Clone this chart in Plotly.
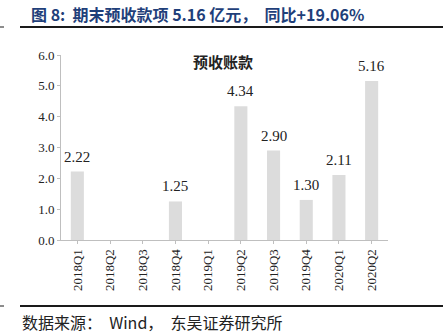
import plotly.graph_objects as go

# Quarterly advance receipts (亿元)
quarters = ["2018Q1", "2018Q2", "2018Q3", "2018Q4", "2019Q1",
            "2019Q2", "2019Q3", "2019Q4", "2020Q1", "2020Q2"]
advance_receipts = [2.22, None, None, 1.25, None, 4.34, 2.90, 1.30, 2.11, 5.16]
y_ticks = [0, 1, 2, 3, 4, 5, 6]

W, H = 443, 335
L, R, T, B = 61, 388, 55, 240  # plot area in pixels


def px(x):
    return (x - L) / (R - L)


def py(y):
    return (B - y) / (B - T)


serif = "Liberation Serif, Times New Roman, serif"
cjk = "Noto Sans CJK SC, sans-serif"

fig = go.Figure(
    go.Bar(
        x=quarters,
        y=advance_receipts,
        marker=dict(color="#dcdcdc", line=dict(width=0)),
        width=0.4,
        hoverinfo="x+y",
    )
)

# value labels above each bar
value_labels = [
    dict(x=q, y=v, text=f"{v:.2f}", xref="x", yref="y",
         xanchor="center", yanchor="bottom", yshift=5, showarrow=False,
         font=dict(family=serif, size=15, color="#222222"))
    for q, v in zip(quarters, advance_receipts) if v is not None
]

line_col = "#1a1a1a"
fig.update_layout(
    width=W,
    height=H,
    margin=dict(l=L, r=W - R, t=T, b=H - B),
    paper_bgcolor="white",
    plot_bgcolor="white",
    showlegend=False,
    xaxis=dict(
        type="category",
        tickangle=-90,
        tickfont=dict(family=serif, size=13, color="#222222"),
        showline=True,
        linecolor="#bfbfbf",
        linewidth=1,
        ticks="outside",
        ticklen=3,
        tickcolor="#bfbfbf",
        showgrid=False,
        zeroline=False,
    ),
    yaxis=dict(
        range=[0, 6],
        tickvals=y_ticks,
        ticktext=[f"{v:.1f}" for v in y_ticks],
        tickfont=dict(family=serif, size=13, color="#222222"),
        showline=True,
        linecolor="#bfbfbf",
        linewidth=1,
        ticks="outside",
        ticklen=3,
        tickcolor="#bfbfbf",
        showgrid=False,
        zeroline=False,
    ),
    shapes=[
        dict(type="line", xref="paper", yref="paper",
             x0=px(20), x1=px(443), y0=py(27), y1=py(27),
             line=dict(color=line_col, width=2)),
        dict(type="line", xref="paper", yref="paper",
             x0=px(0), x1=px(4), y0=py(27), y1=py(27),
             line=dict(color=line_col, width=1)),
        dict(type="line", xref="paper", yref="paper",
             x0=px(20), x1=px(443), y0=py(306), y1=py(306),
             line=dict(color=line_col, width=2)),
        dict(type="line", xref="paper", yref="paper",
             x0=px(0), x1=px(4), y0=py(306), y1=py(306),
             line=dict(color=line_col, width=1)),
    ],
    annotations=value_labels + [
        dict(text="<b>图 8:  期末预收款项 5.16 亿元，  同比+19.06%</b>",
             xref="paper", yref="paper", x=px(29), y=py(14),
             xanchor="left", yanchor="middle", showarrow=False,
             font=dict(family=cjk, size=16, color="#1f3f7a")),
        dict(text="<b>预收账款</b>",
             xref="paper", yref="paper", x=px(223), y=py(62),
             xanchor="center", yanchor="middle", showarrow=False,
             font=dict(family=cjk, size=15, color="#222222")),
        dict(text="数据来源：  Wind，  东吴证券研究所",
             xref="paper", yref="paper", x=px(20), y=py(322),
             xanchor="left", yanchor="middle", showarrow=False,
             font=dict(family=cjk, size=16, color="#222222")),
    ],
)

fig.write_html("out.html")
